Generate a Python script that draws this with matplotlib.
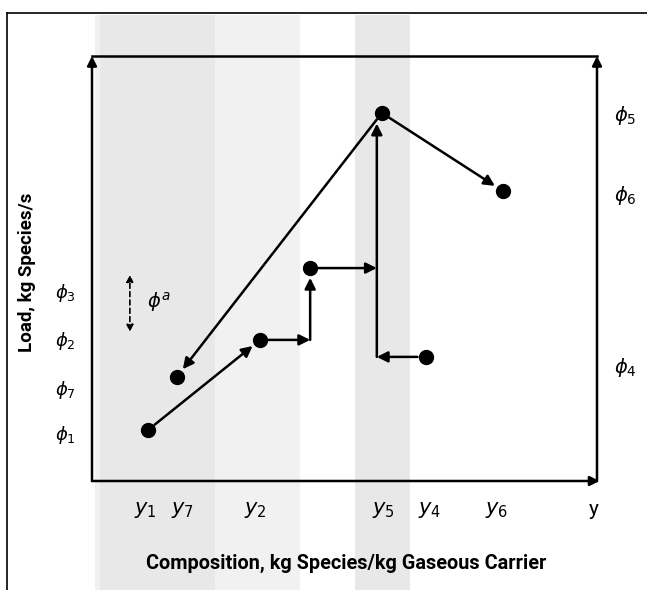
import matplotlib.pyplot as plt
from matplotlib.lines import Line2D
from matplotlib.patches import Rectangle

# operating points (composition, load) on a 0-100 scale of the plot box
point_names = ["1", "7", "2", "3", "5", "6", "4"]
point_x = [11.1, 16.8, 33.3, 43.2, 57.4, 81.4, 66.1]
point_y = [12.0, 24.5, 33.2, 50.1, 86.6, 68.2, 29.2]
mix_x = 56.4  # composition of the vertical mixing line (y5)

x_tick_pos = [10.5, 18.0, 32.3, 57.8, 66.9, 80.2, 99.4]
x_tick_labels = [r"$y_1$", r"$y_7$", r"$y_2$", r"$y_5$", r"$y_4$", r"$y_6$", "y"]
left_tick_pos = [44.9, 33.6, 22.1, 11.5]
left_tick_labels = [r"$\phi_3$", r"$\phi_2$", r"$\phi_7$", r"$\phi_1$"]
right_tick_pos = [86.8, 67.8, 27.3]
right_tick_labels = [r"$\phi_5$", r"$\phi_6$", r"$\phi_4$"]

plt.rcParams["font.family"] = ["Roboto", "DejaVu Sans"]
plt.rcParams["mathtext.fontset"] = "dejavusans"

W, H = 647, 590
fig = plt.figure(figsize=(W / 100, H / 100), dpi=100)

# stippled grey background bands (figure pixels)
for x0, x1, col in [(95, 300, "#f1f1f1"), (100, 215, "#e8e8e8"),
                    (355, 410, "#e8e8e8")]:
    fig.add_artist(Rectangle((x0 / W, 0), (x1 - x0) / W, 1 - 15 / H,
                             transform=fig.transFigure, color=col, zorder=0,
                             lw=0))

# outer frame
fig.add_artist(Line2D([7 / W, 7 / W], [0, 1 - 13 / H], color="black", lw=1.2))
fig.add_artist(Line2D([7 / W, 1], [1 - 13 / H, 1 - 13 / H], color="black", lw=1.2))

left, right, top, bottom = 92, 597, 56, 481
ax = fig.add_axes([left / W, 1 - bottom / H, (right - left) / W, (bottom - top) / H])
ax.set_xlim(0, 100)
ax.set_ylim(0, 100)
ax.patch.set_alpha(0)
for s in ax.spines.values():
    s.set_visible(False)

axis_arrow = dict(arrowstyle="-|>", color="black", lw=1.8, mutation_scale=14,
                  shrinkA=0, shrinkB=0)
ax.annotate("", xy=(0, 1), xytext=(0, 0), xycoords="axes fraction",
            arrowprops=axis_arrow)
ax.annotate("", xy=(1, 1), xytext=(1, 0), xycoords="axes fraction",
            arrowprops=axis_arrow)
ax.annotate("", xy=(1.005, 0), xytext=(0, 0), xycoords="axes fraction",
            arrowprops=axis_arrow)
ax.plot([0, 1], [1, 1], color="black", lw=1.8, transform=ax.transAxes,
        clip_on=False)

ax.set_xticks(x_tick_pos, x_tick_labels, fontsize=15)
ax.tick_params(axis="x", length=0, pad=14)
ax.set_yticks(left_tick_pos, left_tick_labels, fontsize=13)
ax.tick_params(axis="y", length=0, pad=12, left=False, labelleft=True)
ax2 = ax.twinx()
ax2.set_ylim(0, 100)
for s in ax2.spines.values():
    s.set_visible(False)
ax2.set_yticks(right_tick_pos, right_tick_labels, fontsize=14)
ax2.tick_params(axis="y", length=0, pad=12)

P = dict(zip(point_names, zip(point_x, point_y)))
arrow = dict(arrowstyle="-|>", color="black", lw=1.8, mutation_scale=16)


def seg(a, b, end_dot=True, start_dot=True):
    ax.annotate("", xy=b, xytext=a,
                arrowprops=dict(arrow, shrinkA=6 if start_dot else 0,
                                shrinkB=7 if end_dot else 0))


corner = (P["3"][0], P["2"][1])
seg(P["1"], P["2"])
seg(P["2"], corner, end_dot=False)
seg(corner, P["3"], start_dot=False)
seg(P["3"], (mix_x, P["3"][1]), end_dot=False)
seg(P["4"], (mix_x, P["4"][1]), end_dot=False)
seg((mix_x, P["4"][1]), (mix_x, P["5"][1] - 2.5), start_dot=False, end_dot=False)
seg(P["5"], P["7"])
seg(P["5"], P["6"])

ax.plot(point_x, point_y, "o", color="black", markersize=10, zorder=5)

# dashed double arrow for phi^a
ax.annotate("", xy=(7.5, 48.5), xytext=(7.5, 35.1),
            arrowprops=dict(arrowstyle="<|-|>", color="black", lw=1.2,
                            linestyle=(0, (3, 2)), mutation_scale=10,
                            shrinkA=0, shrinkB=0))
ax.text(10.8, 42.1, r"$\phi^a$", fontsize=14, va="center", ha="left")

fig.text(27 / W, 1 - 272 / H, "Load, kg Species/s", rotation=90,
         fontsize=13.5, fontweight="bold", ha="center", va="center")
fig.text(346 / W, 1 - 563 / H, "Composition, kg Species/kg Gaseous Carrier",
         fontsize=14.3, fontweight="bold", ha="center", va="center")

fig.savefig("out.png", dpi=100)
